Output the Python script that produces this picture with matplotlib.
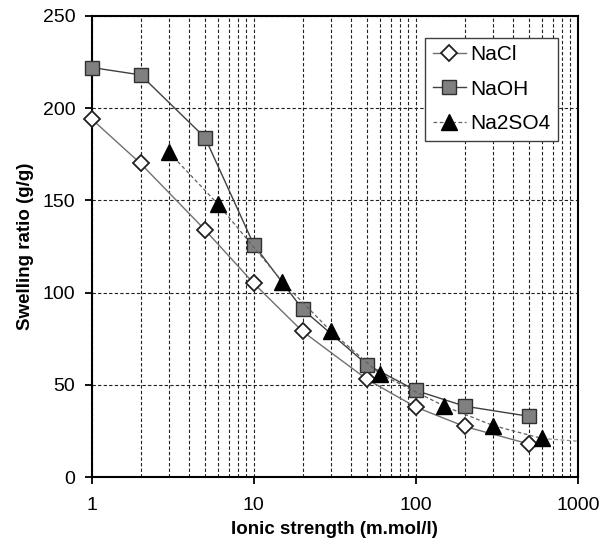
import matplotlib
matplotlib.use("Agg")
import matplotlib.pyplot as plt
from matplotlib.ticker import FixedLocator, NullFormatter, LogLocator

# Ionic strength (m.mol/l) and swelling ratio (g/g)
nacl_x = [1, 2, 5, 10, 20, 50, 100, 200, 500]
nacl_y = [194, 170, 134, 105, 79, 53, 38, 27.5, 18]

naoh_x = [1, 2, 5, 10, 20, 50, 100, 200, 500]
naoh_y = [222, 218, 184, 126, 91, 61, 47, 38.5, 33]

na2so4_x = [3, 6, 15, 30, 60, 150, 300, 600]
na2so4_y = [176, 148, 106, 79, 56, 38.5, 28, 21]
# trend tail drawn past the last point
tail_x = [600, 1000]
tail_y = [21, 19.5]

plt.rcParams['font.family'] = ['Liberation Sans', 'DejaVu Sans']

fig = plt.figure(figsize=(6, 5.46), dpi=100)
ax = fig.add_axes([0.153, 0.126, 0.81, 0.845])

ax.plot(nacl_x, nacl_y, '-', color='#707070', lw=1.0, marker='D', ms=8.5,
        mfc='white', mec='#202020', mew=1.3, label='NaCl', zorder=4, clip_on=False)
ax.plot(naoh_x, naoh_y, '-', color='#404040', lw=1.0, marker='s', ms=10,
        mfc='#808080', mec='#303030', mew=1.0, label='NaOH', zorder=4, clip_on=False)
ax.plot(na2so4_x, na2so4_y, '--', color='#606060', lw=0.9, dashes=(3, 2), marker='^',
        ms=11, mfc='black', mec='black', label='Na2SO4', zorder=4)
ax.plot(tail_x, tail_y, '--', color='#909090', lw=0.9, dashes=(3, 2), zorder=3)

ax.set_xscale('log')
ax.set_xlim(1, 1000)
ax.set_ylim(0, 250)
ax.set_yticks([0, 50, 100, 150, 200, 250])
ax.xaxis.set_major_locator(FixedLocator([1, 10, 100, 1000]))
ax.set_xticklabels(['1', '10', '100', '1000'])
ax.xaxis.set_minor_locator(LogLocator(base=10, subs=range(2, 10)))
ax.xaxis.set_minor_formatter(NullFormatter())

ax.grid(True, which='major', axis='both', color='#202020', ls=(0, (3, 2)), lw=0.8)
ax.grid(True, which='minor', axis='x', color='#202020', ls=(0, (3, 2)), lw=0.8)
ax.set_axisbelow(True)

for s in ax.spines.values():
    s.set_linewidth(1.5)
    s.set_color('black')

ax.tick_params(axis='both', which='major', labelsize=14, length=5, width=1.3, direction='out')
ax.tick_params(axis='x', which='major', pad=9)
ax.tick_params(axis='y', which='major', pad=7)
ax.tick_params(axis='x', which='minor', length=0)

ax.set_xlabel('Ionic strength (m.mol/l)', fontsize=13.5, fontweight='bold', labelpad=5)
ax.set_ylabel('Swelling ratio (g/g)', fontsize=13.5, fontweight='bold', labelpad=6)

leg = ax.legend(loc='upper right', bbox_to_anchor=(0.98, 0.975), fontsize=15,
                frameon=True, fancybox=False, edgecolor='#404040', framealpha=1,
                handlelength=1.6, handletextpad=0.2, borderpad=0.35, labelspacing=0.75)
leg.get_frame().set_linewidth(1.0)

fig.savefig('out.png', dpi=100)
